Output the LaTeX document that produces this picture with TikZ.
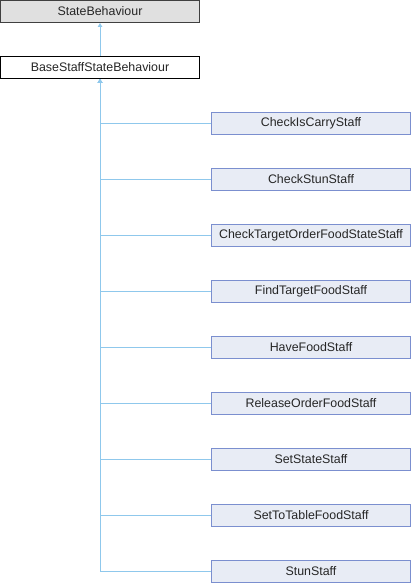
\documentclass[tikz,border=0pt]{standalone}
\usepackage{fontspec}
\setmainfont{Liberation Sans}
\usetikzlibrary{arrows.meta}
\definecolor{edgecol}{HTML}{8FC8EC}
\definecolor{childfill}{HTML}{E8ECF5}
\definecolor{childdraw}{HTML}{7B8FCF}
\definecolor{topfill}{HTML}{E0E0E0}
\begin{document}
\begin{tikzpicture}[x=1bp,y=-1bp,
  box/.style={draw, line width=1bp, minimum width=199bp, minimum height=22bp, inner sep=0pt,
    font=\fontsize{12.4bp}{14bp}\selectfont, text=black!85},
  topbox/.style={box, fill=topfill, draw=black!75},
  basebox/.style={box, fill=white, draw=black},
  childbox/.style={box, fill=childfill, draw=childdraw},
  edge/.style={draw=edgecol, line width=1bp, -{Triangle[length=4bp,width=4.5bp]}}]
\useasboundingbox (0,0) rectangle (412,584);
\node[topbox] (sb) at (100,11.5) {StateBehaviour};
\node[basebox] (base) at (100,67.5) {BaseStaffStateBehaviour};
\foreach \n/\t [count=\i from 0] in {c1/CheckIsCarryStaff,c2/CheckStunStaff,c3/CheckTargetOrderFoodStateStaff,c4/FindTargetFoodStaff,c5/HaveFoodStaff,c6/ReleaseOrderFoodStaff,c7/SetStateStaff,c8/SetToTableFoodStaff,c9/StunStaff}{
  \node[childbox] (\n) at (311,123.5+56*\i) {\t};
}
\draw[edge] (base.north) -- (sb.south);
\foreach \n in {c1,c2,c3,c4,c5,c6,c7,c8,c9}{
  \draw[edge] (\n.west) -| (base.south);
}
\end{tikzpicture}
\end{document}
